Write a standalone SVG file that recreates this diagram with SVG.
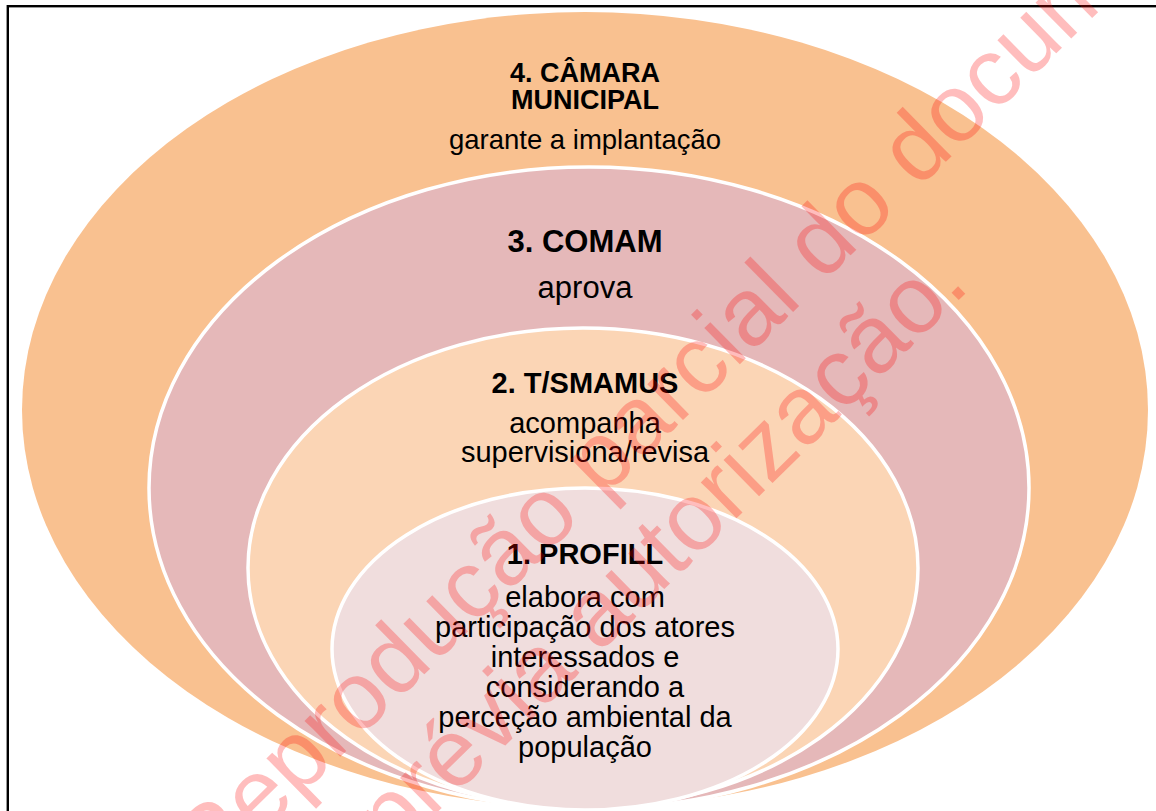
<svg xmlns="http://www.w3.org/2000/svg" width="1156" height="811" viewBox="0 0 1156 811">
<style>
  .h { font-family: "Liberation Sans", Arial, sans-serif; font-weight: bold; fill: #000; text-anchor: middle; }
  .t { font-family: "Liberation Sans", Arial, sans-serif; fill: #000; text-anchor: middle; }
  .ring { stroke: #fff; stroke-width: 3.5; }
  .wm { font-family: "Liberation Sans", Arial, sans-serif; font-size: 96px; fill: #ff0000; fill-opacity: 0.26; }
</style>
<rect x="0" y="0" width="1156" height="811" fill="#fff"/>
<rect x="7.8" y="6.2" width="1300" height="900" fill="none" stroke="#000" stroke-width="2.4"/>
<g id="node4">
  <ellipse cx="585" cy="410" rx="563" ry="398" fill="#F9C190"/>
  <text class="h" x="585" y="82" font-size="27">4. CÂMARA</text>
  <text class="h" x="585" y="108.5" font-size="27">MUNICIPAL</text>
  <text class="t" x="585" y="148.5" font-size="27.5">garante a implantação</text>
</g>
<g id="node3">
  <ellipse class="ring" cx="589" cy="488" rx="440" ry="321" fill="#E5B8B9"/>
  <text class="h" x="585" y="252" font-size="31">3. COMAM</text>
  <text class="t" x="585" y="297.5" font-size="31">aprova</text>
</g>
<g id="node2">
  <ellipse class="ring" cx="583" cy="568" rx="335" ry="240" fill="#FBD5B5"/>
  <text class="h" x="585" y="393" font-size="29">2. T/SMAMUS</text>
  <text class="t" x="585" y="433" font-size="29">acompanha</text>
  <text class="t" x="585" y="462" font-size="29">supervisiona/revisa</text>
</g>
<g id="node1">
  <ellipse class="ring" cx="585" cy="649" rx="253" ry="161" fill="#F0DDDD"/>
  <text class="h" x="585" y="563.5" font-size="29">1. PROFILL</text>
  <text class="t" x="585" y="606.5" font-size="29">elabora com</text>
  <text class="t" x="585" y="636.5" font-size="29">participação dos atores</text>
  <text class="t" x="585" y="666.5" font-size="29">interessados e</text>
  <text class="t" x="585" y="696.5" font-size="29">considerando a</text>
  <text class="t" x="585" y="726.5" font-size="29">perceção ambiental da</text>
  <text class="t" x="585" y="756.5" font-size="29">população</text>
</g>
<g id="connectors"></g>
<g id="watermark">
  <text class="wm" transform="translate(210,885) rotate(-44.5)">Reprodução parcial do documento</text>
  <text class="wm" transform="translate(393,856) rotate(-44.5)">prévia autorização.</text>
</g>
</svg>
